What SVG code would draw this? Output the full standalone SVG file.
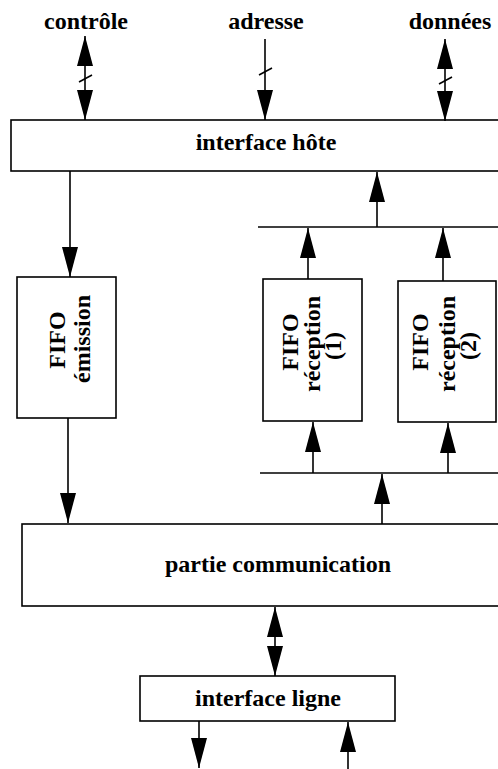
<svg xmlns="http://www.w3.org/2000/svg" width="498" height="769" viewBox="0 0 498 769">
  <defs>
    <marker id="arrow" viewBox="0 0 30 16" refX="30" refY="8" markerWidth="30" markerHeight="16" markerUnits="userSpaceOnUse" orient="auto">
      <path d="M0,0 L30,8 L0,16 z" fill="#000"/>
    </marker>
    <style>
      .box { fill: #fff; stroke: #000; stroke-width: 1.6; }
      .wire { fill: none; stroke: #000; stroke-width: 1.6; }
      .arr { marker-end: url(#arrow); }
      .lbl { font-family: "Liberation Serif", "Times New Roman", serif; font-weight: bold; font-size: 24px; fill: #000; text-anchor: middle; }
    </style>
  </defs>

  <rect width="498" height="769" fill="#fff"/>

  <!-- bus labels -->
  <text class="lbl" x="86" y="29">contrôle</text>
  <text class="lbl" x="266" y="29">adresse</text>
  <text class="lbl" x="450" y="29">données</text>

  <g id="interface-hote">
    <rect class="box" x="11" y="120" width="500" height="51"/>
    <text class="lbl" x="266" y="150">interface hôte</text>
  </g>

  <g id="fifo-emission">
    <rect class="box" x="17" y="277" width="99" height="141"/>
    <text class="lbl" transform="translate(65,340) rotate(-90)">FIFO</text>
    <text class="lbl" transform="translate(90,339) rotate(-90)">émission</text>
  </g>

  <g id="fifo-reception-1">
    <rect class="box" x="263" y="279" width="99" height="142"/>
    <text class="lbl" transform="translate(298,342) rotate(-90)">FIFO</text>
    <text class="lbl" transform="translate(320,344) rotate(-90)">réception</text>
    <text class="lbl" transform="translate(341,346) rotate(-90)">(1)</text>
  </g>

  <g id="fifo-reception-2">
    <rect class="box" x="398" y="281" width="98" height="141"/>
    <text class="lbl" transform="translate(428,342) rotate(-90)">FIFO</text>
    <text class="lbl" transform="translate(455,344) rotate(-90)">réception</text>
    <text class="lbl" transform="translate(476,346) rotate(-90)">(2)</text>
  </g>

  <g id="partie-communication">
    <rect class="box" x="22" y="524" width="490" height="82"/>
    <text class="lbl" x="278" y="572">partie communication</text>
  </g>

  <g id="interface-ligne">
    <rect class="box" x="140" y="676" width="255" height="45"/>
    <text class="lbl" x="268" y="706">interface ligne</text>
  </g>

  <g id="connectors">
    <!-- host buses -->
    <path class="wire arr" d="M85,78 V36"/>
    <path class="wire arr" d="M85,78 V120"/>
    <line class="wire" x1="79" y1="82" x2="92" y2="75"/>

    <path class="wire arr" d="M265,39 V120"/>
    <line class="wire" x1="259" y1="75" x2="272" y2="68"/>

    <path class="wire arr" d="M445,80 V39"/>
    <path class="wire arr" d="M445,80 V121"/>
    <line class="wire" x1="439" y1="84" x2="452" y2="77"/>

    <!-- transmit path -->
    <path class="wire arr" d="M70,171 V277"/>
    <path class="wire arr" d="M68,418 V523"/>

    <!-- receive bus to host interface -->
    <line class="wire" x1="258" y1="227" x2="498" y2="227"/>
    <path class="wire arr" d="M377,227 V172"/>
    <path class="wire arr" d="M308,279 V228"/>
    <path class="wire arr" d="M443,281 V228"/>

    <!-- receive bus from communication part -->
    <line class="wire" x1="260" y1="473" x2="498" y2="473"/>
    <path class="wire arr" d="M313,473 V422"/>
    <path class="wire arr" d="M448,473 V423"/>
    <path class="wire arr" d="M382,524 V474"/>

    <!-- communication part to line interface -->
    <path class="wire arr" d="M275,640 V607"/>
    <path class="wire arr" d="M275,640 V676"/>

    <!-- line in / out -->
    <path class="wire arr" d="M199,721 V768"/>
    <path class="wire arr" d="M348,769 V722"/>
  </g>
</svg>
